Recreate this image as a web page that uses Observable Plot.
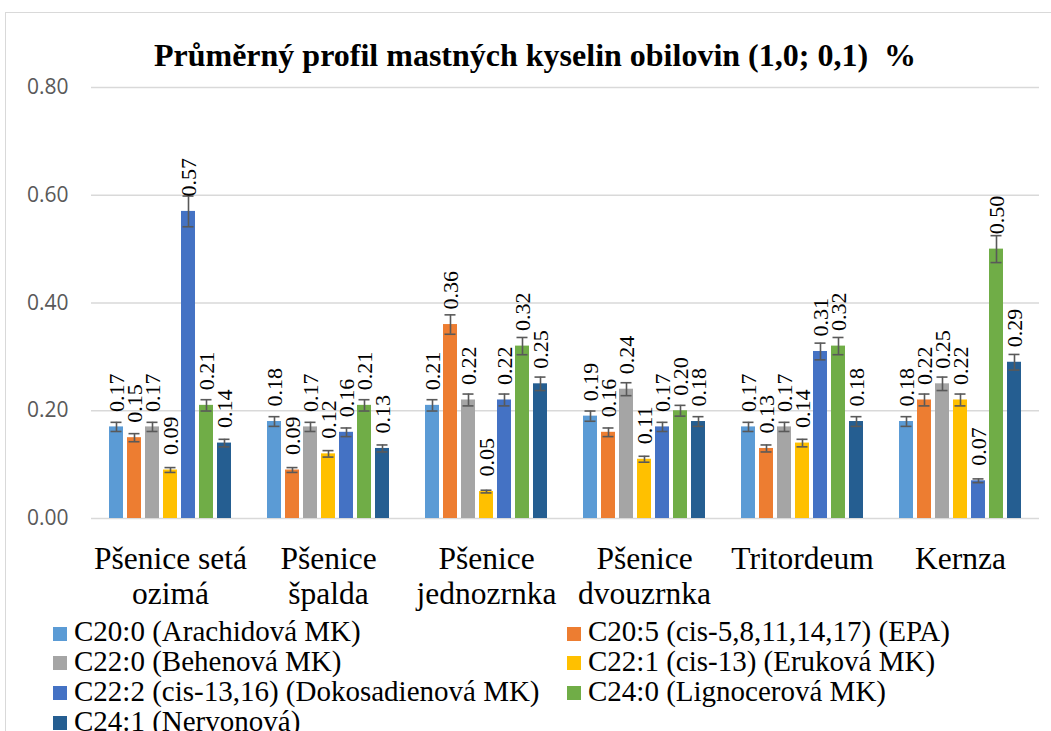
<!DOCTYPE html>
<html>
<head>
<meta charset="utf-8">
<script src="https://cdn.jsdelivr.net/npm/d3@7"></script>
<script src="https://cdn.jsdelivr.net/npm/@observablehq/plot@0.6"></script>
<style>
  html, body { margin: 0; padding: 0; background: #fff; overflow: hidden; }
  #wrap { position: relative; width: 1051px; height: 731px; overflow: hidden; background: #fff; }
  #frame { position: absolute; left: 5px; top: 12px; width: 1100px; height: 800px;
           border-top: 1.5px solid #d9d9d9; border-left: 1.5px solid #d9d9d9; }
  #title { position: absolute; left: 0; width: 1070px; top: 39px; text-align: center;
           font: bold 32px/32px "Liberation Serif", "Times New Roman", serif; white-space: pre; color: #000; }
  #chart { position: absolute; left: 0; top: 0; }
  #chart svg [aria-label="y-axis tick label"] { font-family: "Open Sans", sans-serif; font-size: 21px; fill: #595959; }
  #chart svg [aria-label="fx-axis tick label"] { font-family: "Liberation Serif", "Times New Roman", serif; font-size: 31.5px; fill: #000; }
  .leg { position: absolute; font: 29px/29.7px "Liberation Serif", "Times New Roman", serif; color: #000; white-space: pre; }
  .sw { position: absolute; width: 14px; height: 14px; }
</style>
</head>
<body>
<div id="wrap">
  <div id="frame"></div>
  <div id="title"></div>
  <div id="chart"></div>
  <div id="legend"></div>
</div>
<script>
const titleText = "Průměrný profil mastných kyselin obilovin (1,0; 0,1)  %";
const groups = ["Pšenice setá\nozimá", "Pšenice\nšpalda", "Pšenice\njednozrnka", "Pšenice\ndvouzrnka", "Tritordeum", "Kernza"];
const series = [
  "C20:0 (Arachidová MK)",
  "C20:5 (cis-5,8,11,14,17) (EPA)",
  "C22:0 (Behenová MK)",
  "C22:1 (cis-13) (Eruková MK)",
  "C22:2 (cis-13,16) (Dokosadienová MK)",
  "C24:0 (Lignocerová MK)",
  "C24:1 (Nervonová)"
];
const colors = ["#5B9BD5", "#ED7D31", "#A5A5A5", "#FFC000", "#4472C4", "#70AD47", "#255E91"];
const C20_0 = [0.17, 0.18, 0.21, 0.19, 0.17, 0.18];
const C20_5 = [0.15, 0.09, 0.36, 0.16, 0.13, 0.22];
const C22_0 = [0.17, 0.17, 0.22, 0.24, 0.17, 0.25];
const C22_1 = [0.09, 0.12, 0.05, 0.11, 0.14, 0.22];
const C22_2 = [0.57, 0.16, 0.22, 0.17, 0.31, 0.07];
const C24_0 = [0.21, 0.21, 0.32, 0.20, 0.32, 0.50];
const C24_1 = [0.14, 0.13, 0.25, 0.18, 0.18, 0.29];
const yTicks = [0, 0.2, 0.4, 0.6, 0.8];
const errorPercent = 5; // percentage error bars, as set in the source chart

const seriesValues = [C20_0, C20_5, C22_0, C22_1, C22_2, C24_0, C24_1];
const data = [];
groups.forEach((g, gi) => {
  series.forEach((s, si) => {
    data.push({group: g, series: s, value: seriesValues[si][gi]});
  });
});
const e = errorPercent / 100;
const fmt = d3.format(".2f");

document.getElementById("title").textContent = titleText;

const chart = Plot.plot({
  width: 1051,
  height: 620,
  marginLeft: 90,
  marginRight: 11,
  marginTop: 87,
  marginBottom: 102,
  style: {background: "transparent", overflow: "visible"},
  fx: {domain: groups, padding: 0, label: null},
  x: {domain: series, paddingInner: 0.22, paddingOuter: 0.865, axis: null},
  y: {domain: [0, 0.8], label: null},
  color: {domain: series, range: colors},
  marks: [
    Plot.ruleY(yTicks, {stroke: "#d9d9d9", strokeWidth: 1.3}),
    Plot.axisY({ticks: yTicks, tickSize: 0, tickPadding: 23, tickFormat: ".2f", label: null}),
    Plot.axisFx({anchor: "bottom", tickSize: 0, tickPadding: 25, label: null, lineHeight: 1.13}),
    Plot.barY(data, {fx: "group", x: "series", y: "value", fill: "series"}),
    Plot.ruleX(data, {fx: "group", x: "series", y1: d => d.value * (1 - e), y2: d => d.value * (1 + e), stroke: "#595959", strokeWidth: 1.6}),
    Plot.tickY(data, {fx: "group", x: "series", y: d => d.value * (1 - e), stroke: "#595959", strokeWidth: 1.6, inset: 1.5}),
    Plot.tickY(data, {fx: "group", x: "series", y: d => d.value * (1 + e), stroke: "#595959", strokeWidth: 1.6, inset: 1.5}),
    Plot.text(data, {fx: "group", x: "series", y: "value", text: d => fmt(d.value), rotate: -90, textAnchor: "start", dy: -15, fontSize: 22, fontFamily: "Liberation Serif", fill: "#000"})
  ]
});
document.getElementById("chart").appendChild(chart);

// legend
const legend = document.getElementById("legend");
const rowTop0 = 617.4, rowH = 29.7;
series.forEach((s, i) => {
  const col = i % 2, row = Math.floor(i / 2);
  const top = rowTop0 + row * rowH;
  const left = col === 0 ? 53 : 567;
  const sw = document.createElement("div");
  sw.className = "sw";
  sw.style.left = left + "px";
  sw.style.top = (top + 9.3) + "px";
  sw.style.background = colors[i];
  legend.appendChild(sw);
  const t = document.createElement("div");
  t.className = "leg";
  t.style.left = (left + 21) + "px";
  t.style.top = top + "px";
  t.textContent = s;
  legend.appendChild(t);
});
</script>
</body>
</html>
